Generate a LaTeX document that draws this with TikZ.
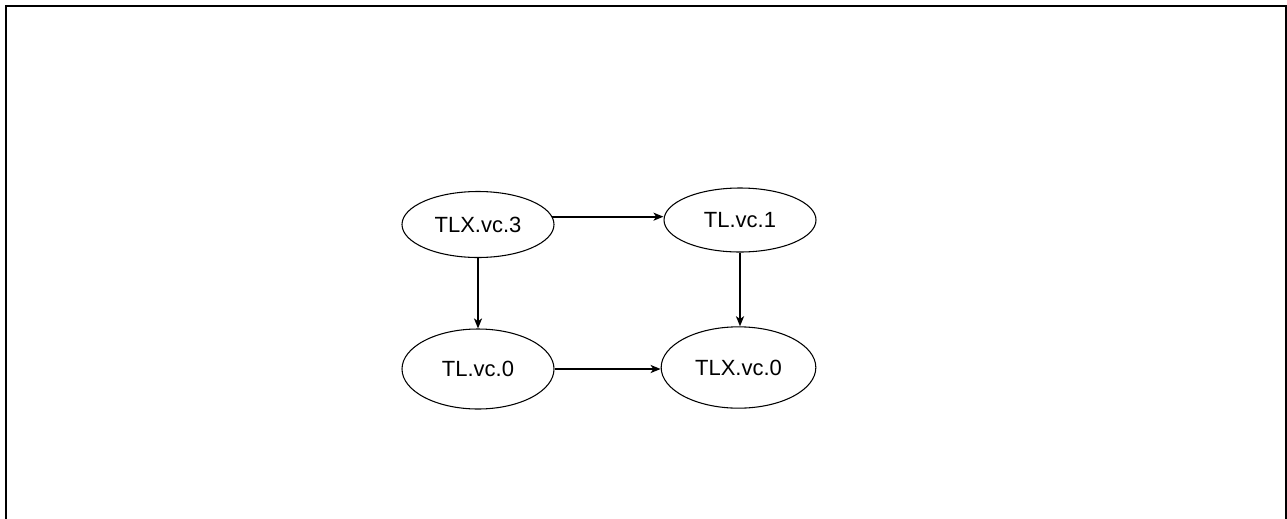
\documentclass[tikz,border=0pt]{standalone}
\usepackage{fontspec}
\setmainfont{Liberation Sans}
\usepackage{tikz}
\usetikzlibrary{shapes.geometric, arrows.meta}

\begin{document}
\begin{tikzpicture}[x=0.75pt, y=-0.75pt,
        font=\fontsize{16.5}{20}\selectfont,
        vcnode/.style={ellipse, draw=black, line width=0.8pt, inner sep=0pt, minimum width=114pt},
        flow/.style={-{Stealth[length=7.5pt, width=6pt, inset=2pt]}, line width=1.5pt}]
        \useasboundingbox (0, 0) rectangle (1287, 518);
        \draw[line width=1.5pt] (6, 524) -- (6, 6) -- (1286, 6) -- (1286, 524);

        \node[vcnode, minimum height=49.5pt] (tlxthree) at (478, 224.5) {TLX.vc.3};
        \node[vcnode, minimum height=48pt] (tlone) at (740, 220) {TL.vc.1};
        \node[vcnode, minimum height=60pt] (tlzero) at (478, 369) {TL.vc.0};
        \node[vcnode, minimum height=61pt, minimum width=116pt] (tlxzero) at (738.5, 367.5) {TLX.vc.0};

        \draw[flow] (tlxthree.6) -- (tlxthree.6 -| tlone.west);
        \draw[flow] (tlxthree.south) -- (tlzero.north);
        \draw[flow] (tlone.south) -- (tlone.south |- tlxzero.north);
        \draw[flow] (tlzero.east) -- (tlzero.east -| tlxzero.west);
    \end{tikzpicture}
\end{document}
